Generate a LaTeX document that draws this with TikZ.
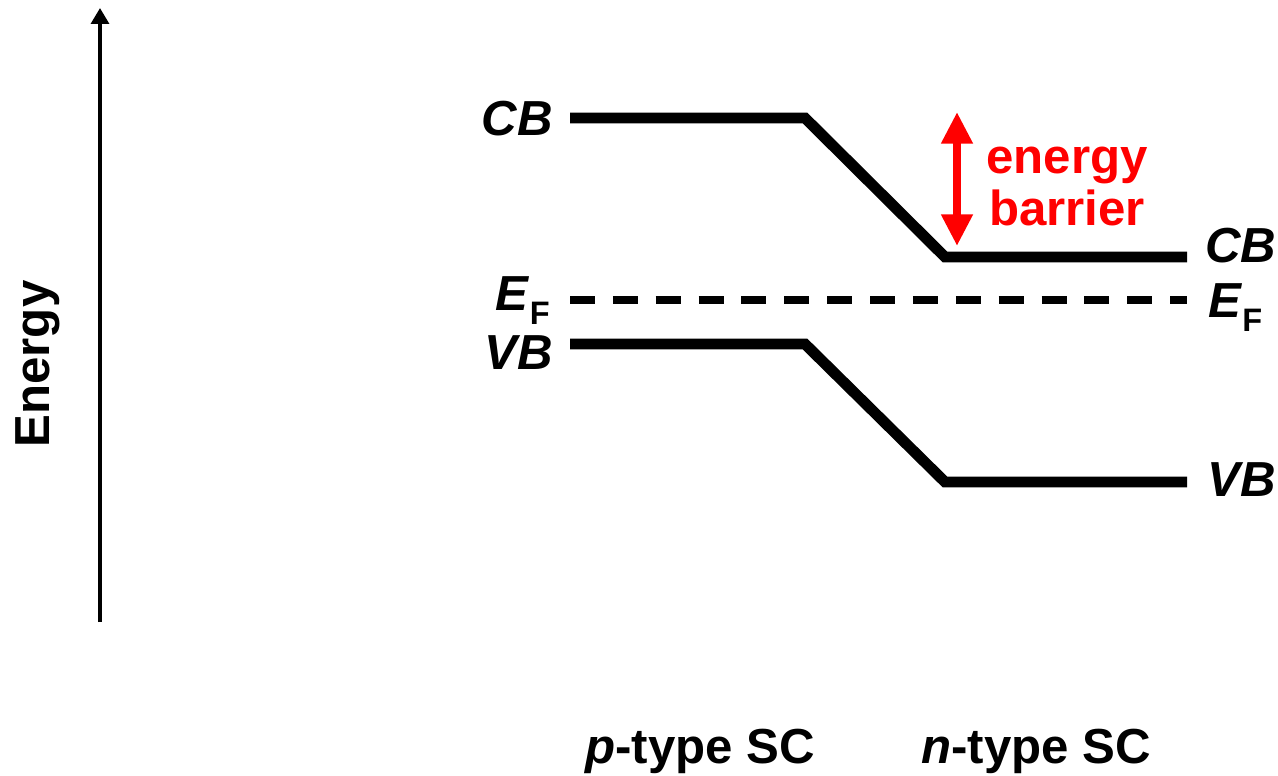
\documentclass[tikz,border=0pt]{standalone}
\usepackage{fontspec}
\setmainfont{Liberation Sans}
\usetikzlibrary{arrows.meta,positioning}

\newcommand{\fermi}{\textit{E}\raisebox{-0.3em}{\fontsize{18.5}{18.5}\selectfont F}}

\begin{document}
\begin{tikzpicture}[
  x=0.02cm, y=-0.02cm,
  font=\fontsize{28}{32}\selectfont\bfseries,
  band/.style={line width=6.2pt},
  efline/.style={line width=4.5pt, dash pattern=on 14.2pt off 10.2pt},
  lbl/.style={inner sep=0pt},
  axis/.style={-{Triangle[length=9pt,width=10pt]}, line width=2.3pt},
  barrier/.style={{Triangle[length=18pt,width=17pt]}-{Triangle[length=18pt,width=17pt]},
    line width=4.5pt, red}
]
  \useasboundingbox (0,0) rectangle (1278,775);

  % energy axis
  \coordinate (ax0) at (100,622);
  \coordinate (ax1) at (100,8);
  \draw[axis] (ax0) -- (ax1);
  \node[lbl, rotate=90, anchor=base] (energy) at (50,364) {Energy};

  % band edges
  \coordinate (cb1) at (570,118);
  \coordinate (cb2) at (805,118);
  \coordinate (cb3) at (945,257);
  \coordinate (cb4) at (1187,257);
  \coordinate (vb1) at (570,344);
  \coordinate (vb2) at (805,344);
  \coordinate (vb3) at (945,482);
  \coordinate (vb4) at (1187,482);
  \coordinate (ef1) at (570,300);
  \coordinate (ef2) at (1187,300);

  \draw[band] (cb1) -- (cb2) -- (cb3) -- (cb4);
  \draw[band] (vb1) -- (vb2) -- (vb3) -- (vb4);
  \draw[efline] (ef1) -- (ef2);

  \node[lbl, anchor=east] (cbp) at (553,119) {\textit{CB}};
  \node[lbl, anchor=base east] (efp) at (550,310) {\fermi};
  \node[lbl, anchor=east] (vbp) at (553,353) {\textit{VB}};
  \node[lbl, anchor=west] (cbn) at (1205,246) {\textit{CB}};
  \node[lbl, anchor=base west] (efn) at (1208,317) {\fermi};
  \node[lbl, anchor=west] (vbn) at (1207,480) {\textit{VB}};

  % barrier
  \coordinate (bar0) at (957,246);
  \coordinate (bar1) at (957,112);
  \draw[barrier] (bar0) -- (bar1);
  \node[lbl, anchor=base, align=center, text=red,
    font=\fontsize{28}{29.5}\selectfont\bfseries] (bartext) at (1067,225) {energy\\barrier};

  \node[lbl, anchor=base] (ptype) at (700,763) {\textit{p}-type SC};
  \node[lbl, anchor=base] (ntype) at (1036,763) {\textit{n}-type SC};
\end{tikzpicture}
\end{document}
